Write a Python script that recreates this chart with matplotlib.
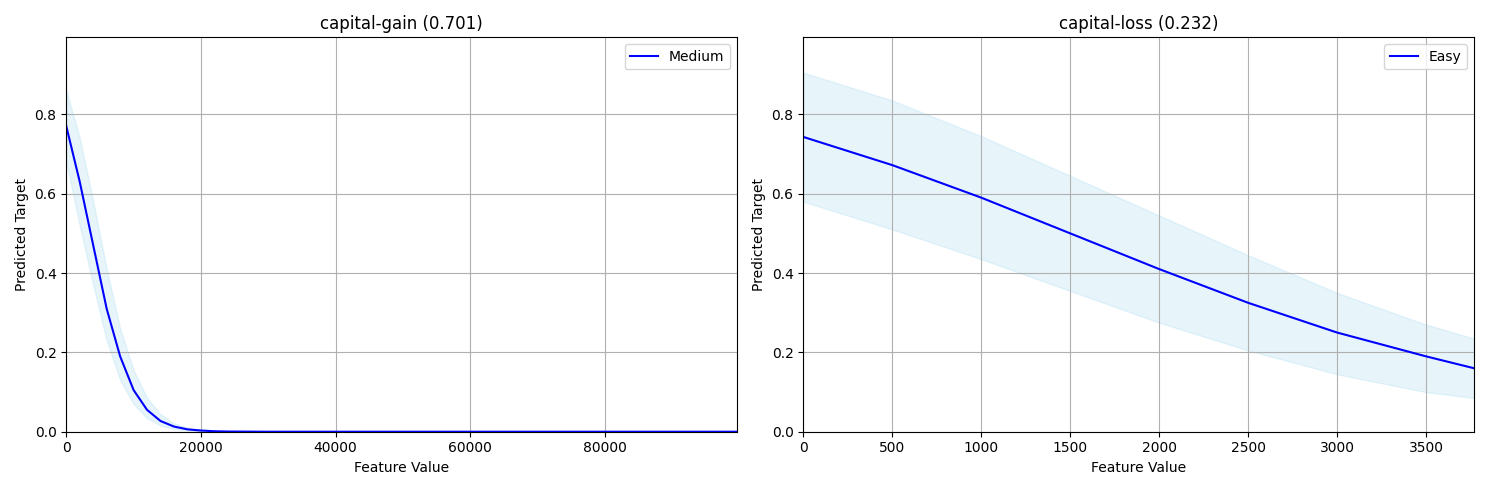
import matplotlib
matplotlib.use("Agg")
import matplotlib.pyplot as plt
import numpy as np

# capital-gain
gain_x = [0, 2000, 4000, 6000, 8000, 10000, 12000, 14000, 16000, 18000, 20000, 22000, 24000, 30000, 99630]
gain_y = [0.77, 0.63, 0.47, 0.31, 0.19, 0.105, 0.055, 0.027, 0.013, 0.006, 0.003, 0.0012, 0.0005, 0.0, 0.0]
gain_lo = [0.68, 0.52, 0.37, 0.23, 0.13, 0.07, 0.034, 0.016, 0.007, 0.003, 0.0013, 0.0005, 0.0002, 0.0, 0.0]
gain_hi = [0.86, 0.74, 0.58, 0.41, 0.26, 0.155, 0.085, 0.044, 0.021, 0.01, 0.005, 0.002, 0.0009, 0.0, 0.0]

# capital-loss
loss_x = [0, 500, 1000, 1500, 2000, 2500, 3000, 3500, 3770]
loss_y = [0.743, 0.672, 0.59, 0.50, 0.41, 0.325, 0.25, 0.19, 0.16]
loss_lo = [0.58, 0.51, 0.435, 0.355, 0.275, 0.205, 0.145, 0.10, 0.085]
loss_hi = [0.905, 0.835, 0.745, 0.645, 0.545, 0.445, 0.35, 0.27, 0.235]

panels = [
    ("capital-gain (0.701)", "Medium", gain_x, gain_y, gain_lo, gain_hi),
    ("capital-loss (0.232)", "Easy", loss_x, loss_y, loss_lo, loss_hi),
]

fig, axes = plt.subplots(1, 2, figsize=(14.89, 4.9), dpi=100)
for ax, (title, lab, x, y, lo, hi) in zip(axes, panels):
    ax.fill_between(x, lo, hi, color="skyblue", alpha=0.2)
    ax.plot(x, y, color="blue", label=lab)
    ax.set_title(title)
    ax.set_xlabel("Feature Value")
    ax.set_ylabel("Predicted Target")
    ax.set_xlim(0, x[-1])
    ax.set_ylim(0, 0.994)
    ax.grid(True)
    ax.legend(loc="upper right")

plt.tight_layout()
fig.savefig("out.png")
